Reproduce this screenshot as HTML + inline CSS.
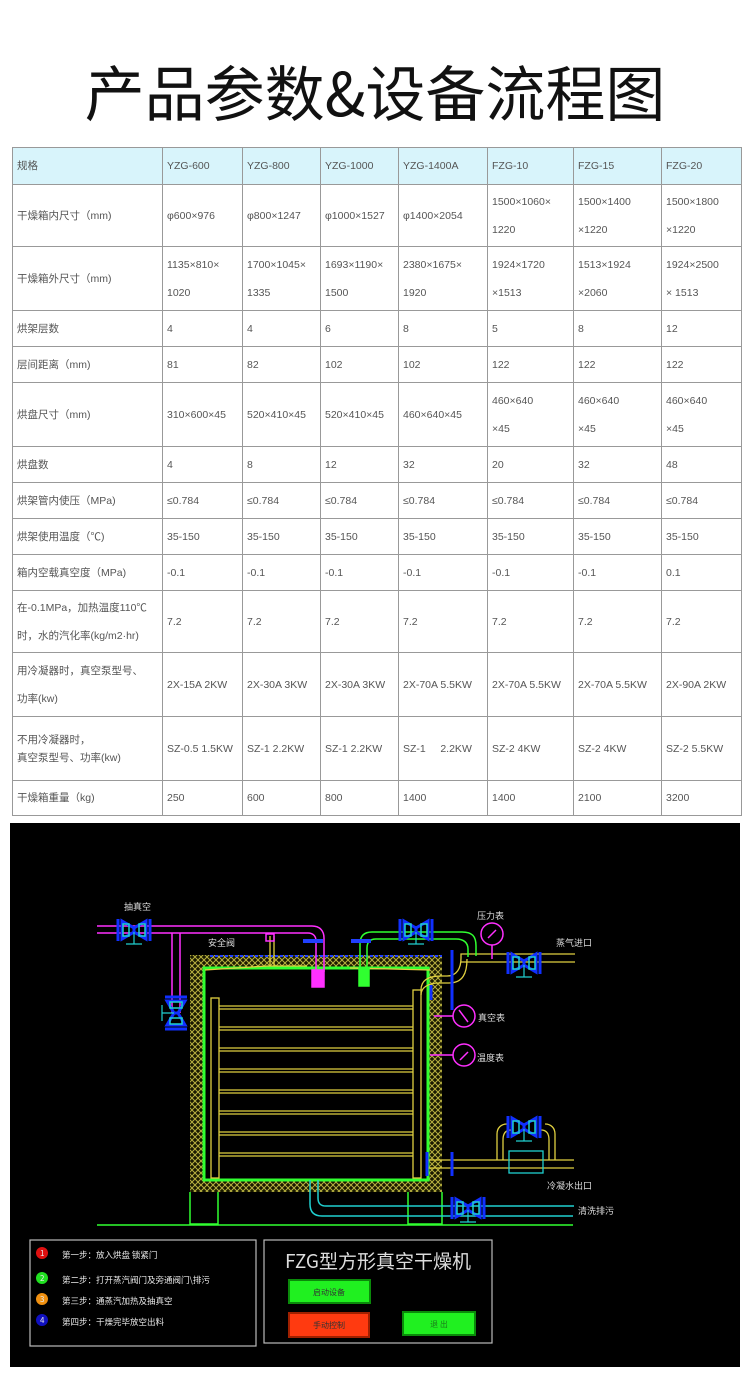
<!DOCTYPE html>
<html><head><meta charset="utf-8"><style>
body{margin:0;width:750px;height:1375px;background:#fff;position:relative;overflow:hidden;font-family:"Liberation Sans","Noto Sans CJK SC",sans-serif}
h1{position:absolute;left:0;top:54px;width:750px;margin:0;text-align:center;font-weight:normal;font-size:60px;line-height:74px;color:#111;font-family:"Noto Sans CJK SC",sans-serif;letter-spacing:0px}
table{position:absolute;left:12px;top:147px;border-collapse:collapse;table-layout:fixed;width:729px}
td{border:1px solid #999;font-size:10.5px;color:#555;padding:0 0 0 4px;line-height:28px;vertical-align:middle;white-space:nowrap;overflow:hidden}
tr.h td{background:#d8f4fb;line-height:14px}
svg{position:absolute;left:0;top:0}
</style></head><body>
<h1>产品参数&amp;设备流程图</h1>
<table>
<colgroup><col style="width:150px"><col style="width:80px"><col style="width:78px"><col style="width:78px"><col style="width:89px"><col style="width:86px"><col style="width:88px"><col style="width:80px"></colgroup>
<tr class="h" style="height:37px"><td>规格</td><td>YZG-600</td><td>YZG-800</td><td>YZG-1000</td><td>YZG-1400A</td><td>FZG-10</td><td>FZG-15</td><td>FZG-20</td></tr>
<tr style="height:62px"><td>干燥箱内尺寸（mm)</td><td>φ600×976</td><td>φ800×1247</td><td>φ1000×1527</td><td>φ1400×2054</td><td>1500×1060×<br>1220</td><td>1500×1400<br>×1220</td><td>1500×1800<br>×1220</td></tr>
<tr style="height:64px"><td>干燥箱外尺寸（mm)</td><td>1135×810×<br>1020</td><td>1700×1045×<br>1335</td><td>1693×1190×<br>1500</td><td>2380×1675×<br>1920</td><td>1924×1720<br>×1513</td><td>1513×1924<br>×2060</td><td>1924×2500<br>× 1513</td></tr>
<tr style="height:36px"><td>烘架层数</td><td>4</td><td>4</td><td>6</td><td>8</td><td>5</td><td>8</td><td>12</td></tr>
<tr style="height:36px"><td>层间距离（mm)</td><td>81</td><td>82</td><td>102</td><td>102</td><td>122</td><td>122</td><td>122</td></tr>
<tr style="height:64px"><td>烘盘尺寸（mm)</td><td>310×600×45</td><td>520×410×45</td><td>520×410×45</td><td>460×640×45</td><td>460×640<br>×45</td><td>460×640<br>×45</td><td>460×640<br>×45</td></tr>
<tr style="height:36px"><td>烘盘数</td><td>4</td><td>8</td><td>12</td><td>32</td><td>20</td><td>32</td><td>48</td></tr>
<tr style="height:36px"><td>烘架管内使压（MPa)</td><td>≤0.784</td><td>≤0.784</td><td>≤0.784</td><td>≤0.784</td><td>≤0.784</td><td>≤0.784</td><td>≤0.784</td></tr>
<tr style="height:36px"><td>烘架使用温度（℃)</td><td>35-150</td><td>35-150</td><td>35-150</td><td>35-150</td><td>35-150</td><td>35-150</td><td>35-150</td></tr>
<tr style="height:36px"><td>箱内空载真空度（MPa)</td><td>-0.1</td><td>-0.1</td><td>-0.1</td><td>-0.1</td><td>-0.1</td><td>-0.1</td><td>0.1</td></tr>
<tr style="height:62px"><td>在-0.1MPa，加热温度110℃<br>时，水的汽化率(kg/m2·hr)</td><td>7.2</td><td>7.2</td><td>7.2</td><td>7.2</td><td>7.2</td><td>7.2</td><td>7.2</td></tr>
<tr style="height:64px"><td>用冷凝器时，真空泵型号、<br>功率(kw)</td><td>2X-15A 2KW</td><td>2X-30A 3KW</td><td>2X-30A 3KW</td><td>2X-70A 5.5KW</td><td>2X-70A 5.5KW</td><td>2X-70A 5.5KW</td><td>2X-90A 2KW</td></tr>
<tr style="height:64px"><td style="line-height:18px">不用冷凝器时，<br>真空泵型号、功率(kw)</td><td>SZ-0.5 1.5KW</td><td>SZ-1 2.2KW</td><td>SZ-1 2.2KW</td><td>SZ-1 &nbsp; &nbsp; 2.2KW</td><td>SZ-2 4KW</td><td>SZ-2 4KW</td><td>SZ-2 5.5KW</td></tr>
<tr style="height:35px"><td>干燥箱重量（kg)</td><td>250</td><td>600</td><td>800</td><td>1400</td><td>1400</td><td>2100</td><td>3200</td></tr>
</table>

<svg width="750" height="1375" viewBox="0 0 750 1375">
<defs>
<pattern id="hx" width="6" height="6" patternUnits="userSpaceOnUse"><rect width="6" height="6" fill="#1a1a00"/><path d="M0 0L6 6M6 0L0 6" stroke="#b8b040" stroke-width="1"/></pattern>
<g id="valve"><path d="M0 -11v22M4 -9l12 7v4l-12 7zM32 -11v22M28 -9l-12 7v4l12 7z" stroke="#1030ff" stroke-width="3" fill="none"/><path d="M5 -6h6v12h-6zM21 -6h6v12h-6z" stroke="#20d0d0" stroke-width="1.5" fill="none"/><path d="M16 2v12M8 14h16" stroke="#20d0d0" stroke-width="1.2"/></g>
</defs>
<rect x="10" y="823" width="730" height="544" fill="#000"/>
<g font-family="Noto Sans CJK SC,sans-serif" font-size="9" fill="#ddd">
<text x="124" y="910">抽真空</text><text x="208" y="946">安全阀</text><text x="477" y="919">压力表</text><text x="556" y="946">蒸气进口</text><text x="478" y="1021">真空表</text><text x="477" y="1061">温度表</text><text x="547" y="1189">冷凝水出口</text><text x="578" y="1214">清洗排污</text>
</g>
<rect x="190" y="955" width="252" height="237" fill="url(#hx)"/>
<rect x="204" y="968" width="224" height="212" fill="#000" stroke="#30ff30" stroke-width="3"/>
<path d="M210 956h232" stroke="#2040ff" stroke-width="2" stroke-dasharray="3 2"/>
<g stroke="#e0d040" stroke-width="1.3" fill="none">
<rect x="211" y="998" width="8" height="180"/><rect x="413" y="990" width="8" height="188"/>
<path d="M219 1006h194M219 1009h194M219 1027h194M219 1030h194M219 1048h194M219 1051h194M219 1069h194M219 1072h194M219 1090h194M219 1093h194M219 1111h194M219 1114h194M219 1132h194M219 1135h194M219 1153h194M219 1156h194"/>
<path d="M205 970l62 -4l40 0M350 968l80 2"/>
<path d="M421 990c0-10 8-14 20-14h6c10 0 14-8 14-18v-4h114M421 995c0-8 8-12 18-12h10c14 0 18-10 18-24M461 962h114"/>
<path d="M428 1160h146M428 1168h146"/><rect x="509" y="1151" width="34" height="22" stroke="#20d0d0"/>
<path d="M497 1160v-26c0-6 4-10 10-10M503 1160v-20c0-6 2-10 8-10M555 1160v-26c0-6-4-10-10-10M549 1160v-20c0-6-2-10-8-10"/>
<path d="M270 936v30M274 936v30"/>
</g>
<g stroke="#ff30ff" stroke-width="1.5" fill="none">
<path d="M97 926h215c8 0 12 5 12 12v34M97 933h211c5 0 8 3 8 8v31"/>
<path d="M172 933v80M180 933v80"/>
<rect x="312" y="970" width="12" height="17" fill="#ff30ff"/>
<rect x="266" y="934" width="8" height="7"/>
<circle cx="464" cy="1016" r="11"/><path d="M434 1016h19M459 1010l9 12"/>
<circle cx="464" cy="1055" r="11"/><path d="M430 1055h23M460 1060l8-8"/>
<circle cx="492" cy="934" r="11"/><path d="M492 945v14M488 938l8-8"/>
</g>
<g stroke="#30ff30" stroke-width="1.5" fill="none">
<path d="M360 972v-28c0-8 4-12 12-12h90c10 0 14 4 14 14v10M367 972v-24c0-6 3-9 9-9h80c8 0 12 4 12 10v8"/>
<rect x="359" y="968" width="10" height="18" fill="#30ff30"/>
<path d="M190 1192v32h28v-32M408 1192v32h34v-32M97 1225h476"/>
</g>
<path d="M303 941h20M351 941h20" stroke="#2040ff" stroke-width="4"/>
<path d="M310 1180v24c0 8 4 12 12 12h251M318 1180v18c0 6 3 8 8 8h248" stroke="#20d0d0" stroke-width="1.5" fill="none"/>
<path d="M452 950v60M427 1152v24M452 1152v24M431 1000v-15" stroke="#1030ff" stroke-width="3"/>
<use href="#valve" x="118" y="930"/>
<use href="#valve" x="400" y="930"/>
<use href="#valve" x="508" y="963"/>
<use href="#valve" x="508" y="1127"/>
<use href="#valve" x="452" y="1208"/>
<g transform="translate(176 1013) rotate(90)"><use href="#valve" x="-16" y="0"/></g>
<rect x="30" y="1240" width="226" height="106" fill="none" stroke="#bbb" stroke-width="1.2"/>
<rect x="264" y="1240" width="228" height="103" fill="none" stroke="#bbb" stroke-width="1.2"/>
<g font-family="Noto Sans CJK SC,sans-serif" font-size="8.5" fill="#e8e8e8">
<circle cx="42" cy="1253" r="6" fill="#e01010"/><text x="40" y="1256" font-size="8">1</text><text x="62" y="1258">第一步：放入烘盘  锁紧门</text>
<circle cx="42" cy="1278" r="6" fill="#20e020"/><text x="40" y="1281" font-size="8">2</text><text x="62" y="1283">第二步：打开蒸汽阀门及旁通阀门\排污</text>
<circle cx="42" cy="1299" r="6" fill="#f09010"/><text x="40" y="1302" font-size="8">3</text><text x="62" y="1304">第三步：通蒸汽加热及抽真空</text>
<circle cx="42" cy="1320" r="6" fill="#1010c0"/><text x="40" y="1323" font-size="8">4</text><text x="62" y="1325">第四步：干燥完毕放空出料</text>
</g>
<text x="378" y="1268" text-anchor="middle" font-family="Noto Sans CJK SC,sans-serif" font-size="19" fill="#ddd">FZG型方形真空干燥机</text>
<rect x="289" y="1280" width="81" height="23" fill="#20f020" stroke="#0a8a0a" stroke-width="2"/>
<text x="329" y="1295" text-anchor="middle" font-family="Noto Sans CJK SC,sans-serif" font-size="8" fill="#333">启动设备</text>
<rect x="289" y="1313" width="80" height="24" fill="#ff3a10" stroke="#a02000" stroke-width="2"/>
<text x="329" y="1328" text-anchor="middle" font-family="Noto Sans CJK SC,sans-serif" font-size="8" fill="#333">手动控制</text>
<rect x="403" y="1312" width="72" height="23" fill="#20f020" stroke="#0a8a0a" stroke-width="2"/>
<text x="439" y="1327" text-anchor="middle" font-family="Noto Sans CJK SC,sans-serif" font-size="8" fill="#1a801a">退  出</text>
</svg>
</body></html>
